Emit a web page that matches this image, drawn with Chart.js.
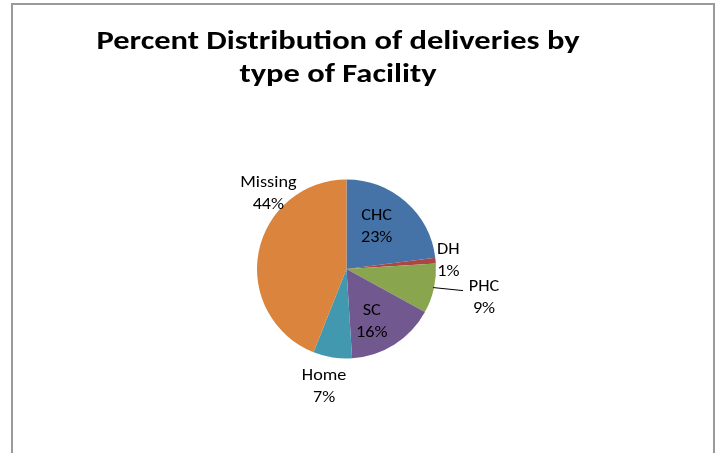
<!DOCTYPE html>
<html>
<head>
<meta charset="utf-8">
<script src="https://cdn.jsdelivr.net/npm/chart.js@4/dist/chart.umd.min.js"></script>
<style>
  html, body { margin: 0; padding: 0; background: #ffffff; }
  #wrap { width: 717px; height: 453px; position: relative; }
</style>
</head>
<body>
<div id="wrap"><canvas id="c" width="717" height="453"></canvas></div>
<script>
// ---- data ----
const categories = ['CHC', 'DH', 'PHC', 'SC', 'Home', 'Missing'];
const percents   = [23, 1, 9, 16, 7, 44];
const titleLines = ['Percent Distribution of deliveries by', 'type of Facility'];

// ---- styles ----
const sliceColors = ['#4573A7', '#AA4643', '#89A54E', '#71588F', '#4198AF', '#DB843D'];
const FONT = 'Carlito, Lato, "Open Sans", sans-serif';
// label placement: angle (deg, clockwise from 12 o'clock) and distance in radii
const labelPlacement = [
  { a: 34.6,  d: 0.593 },
  { a: 84.8,  d: 1.142 },
  { a: 101.2, d: 1.566, leader: { a0: 102.1, d0: 0.99, a1: 100.5, d1: 1.324 } },
  { a: 154.0, d: 0.643 },
  { a: 190.9, d: 1.326 },
  { a: 314.6, d: 1.226 }
];

function polar(cx, cy, r, deg) {
  const t = deg * Math.PI / 180;
  return { x: cx + r * Math.sin(t), y: cy - r * Math.cos(t) };
}

function stretchedText(ctx, text, x, y, sx) {
  ctx.save();
  ctx.translate(x, y);
  ctx.scale(sx, 1);
  ctx.fillText(text, 0, 0);
  ctx.restore();
}

const framePlugin = {
  id: 'frameTitle',
  beforeDraw(chart) {
    const ctx = chart.ctx;
    ctx.save();
    ctx.fillStyle = '#ffffff';
    ctx.fillRect(0, 0, chart.width, chart.height);
    ctx.strokeStyle = '#9a9a9a';
    ctx.lineWidth = 2;
    ctx.beginPath();
    ctx.moveTo(12, 460);
    ctx.lineTo(12, 4);
    ctx.lineTo(714, 4);
    ctx.lineTo(714, 460);
    ctx.stroke();
    ctx.fillStyle = '#000000';
    ctx.font = 'bold 26px ' + FONT;
    ctx.textAlign = 'center';
    ctx.textBaseline = 'middle';
    stretchedText(ctx, titleLines[0], 338, 42, 1.25);
    stretchedText(ctx, titleLines[1], 338, 75, 1.25);
    ctx.restore();
  }
};

const labelPlugin = {
  id: 'sliceLabels',
  afterDatasetsDraw(chart) {
    const meta = chart.getDatasetMeta(0);
    const ctx = chart.ctx;
    ctx.save();
    ctx.font = '17px ' + FONT;
    ctx.fillStyle = '#000000';
    ctx.textAlign = 'center';
    ctx.textBaseline = 'middle';
    meta.data.forEach((arc, i) => {
      const p = arc.getProps(['x', 'y', 'outerRadius'], true);
      const lp = labelPlacement[i];
      const c = polar(p.x, p.y, p.outerRadius * lp.d, lp.a);
      stretchedText(ctx, categories[i], c.x, c.y - 9.5, 1.07);
      stretchedText(ctx, percents[i] + '%', c.x, c.y + 12.5, 1.07);
      if (lp.leader) {
        const s = polar(p.x, p.y, p.outerRadius * lp.leader.d0, lp.leader.a0);
        const e = polar(p.x, p.y, p.outerRadius * lp.leader.d1, lp.leader.a1);
        ctx.strokeStyle = '#000000';
        ctx.lineWidth = 1;
        ctx.beginPath();
        ctx.moveTo(s.x, s.y);
        ctx.lineTo(e.x, e.y);
        ctx.stroke();
      }
    });
    ctx.restore();
  }
};

new Chart(document.getElementById('c'), {
  type: 'pie',
  data: {
    labels: categories,
    datasets: [{
      data: percents,
      backgroundColor: sliceColors,
      borderWidth: 0
    }]
  },
  options: {
    responsive: false,
    animation: false,
    radius: 89.5,
    layout: { padding: { top: 100, bottom: 15, left: 10, right: 34 } },
    plugins: {
      legend: { display: false },
      title: { display: false },
      tooltip: { enabled: false }
    }
  },
  plugins: [framePlugin, labelPlugin]
});
</script>
</body>
</html>
